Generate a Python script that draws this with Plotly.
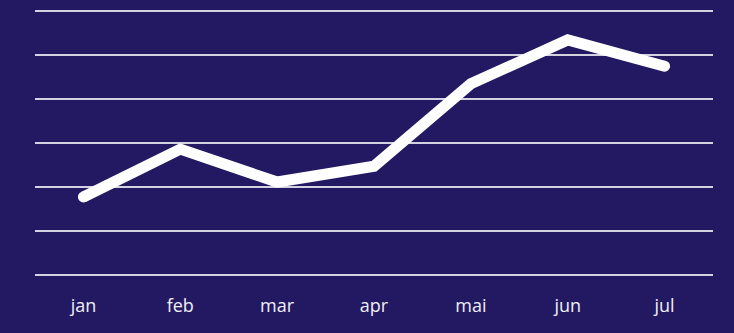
import plotly.graph_objects as go

months = ["jan", "feb", "mar", "apr", "mai", "jun", "jul"]
values = [17.7, 28.6, 21.1, 24.7, 43.5, 53.5, 47.5]

BG = "#231862"
LINE_W = 11

fig = go.Figure()
fig.add_trace(
    go.Scatter(
        x=months,
        y=values,
        mode="lines",
        line=dict(color="#ffffff", width=LINE_W),
        hoverinfo="skip",
    )
)
# round caps at the two ends of the line
fig.add_trace(
    go.Scatter(
        x=[months[0], months[-1]],
        y=[values[0], values[-1]],
        mode="markers",
        marker=dict(color="#ffffff", size=LINE_W, opacity=1, line=dict(width=0)),
        hoverinfo="skip",
    )
)

fig.update_layout(
    width=734,
    height=333,
    margin=dict(l=35, r=21, t=7, b=54),
    paper_bgcolor=BG,
    plot_bgcolor=BG,
    showlegend=False,
    font=dict(family="Open Sans, Noto Sans, sans-serif", size=18, color="#f0f0f4"),
)
fig.update_xaxes(
    type="category",
    range=[-0.5, 6.5],
    showgrid=False,
    zeroline=False,
    showline=False,
    ticks="outside",
    ticklen=10,
    tickcolor="rgba(0,0,0,0)",
)
fig.update_yaxes(
    range=[-1, 61],
    tick0=0,
    dtick=10,
    showgrid=True,
    gridcolor="#d4d2e0",
    gridwidth=1.5,
    zeroline=False,
    showline=False,
    showticklabels=False,
)

fig.write_html("out.html")
